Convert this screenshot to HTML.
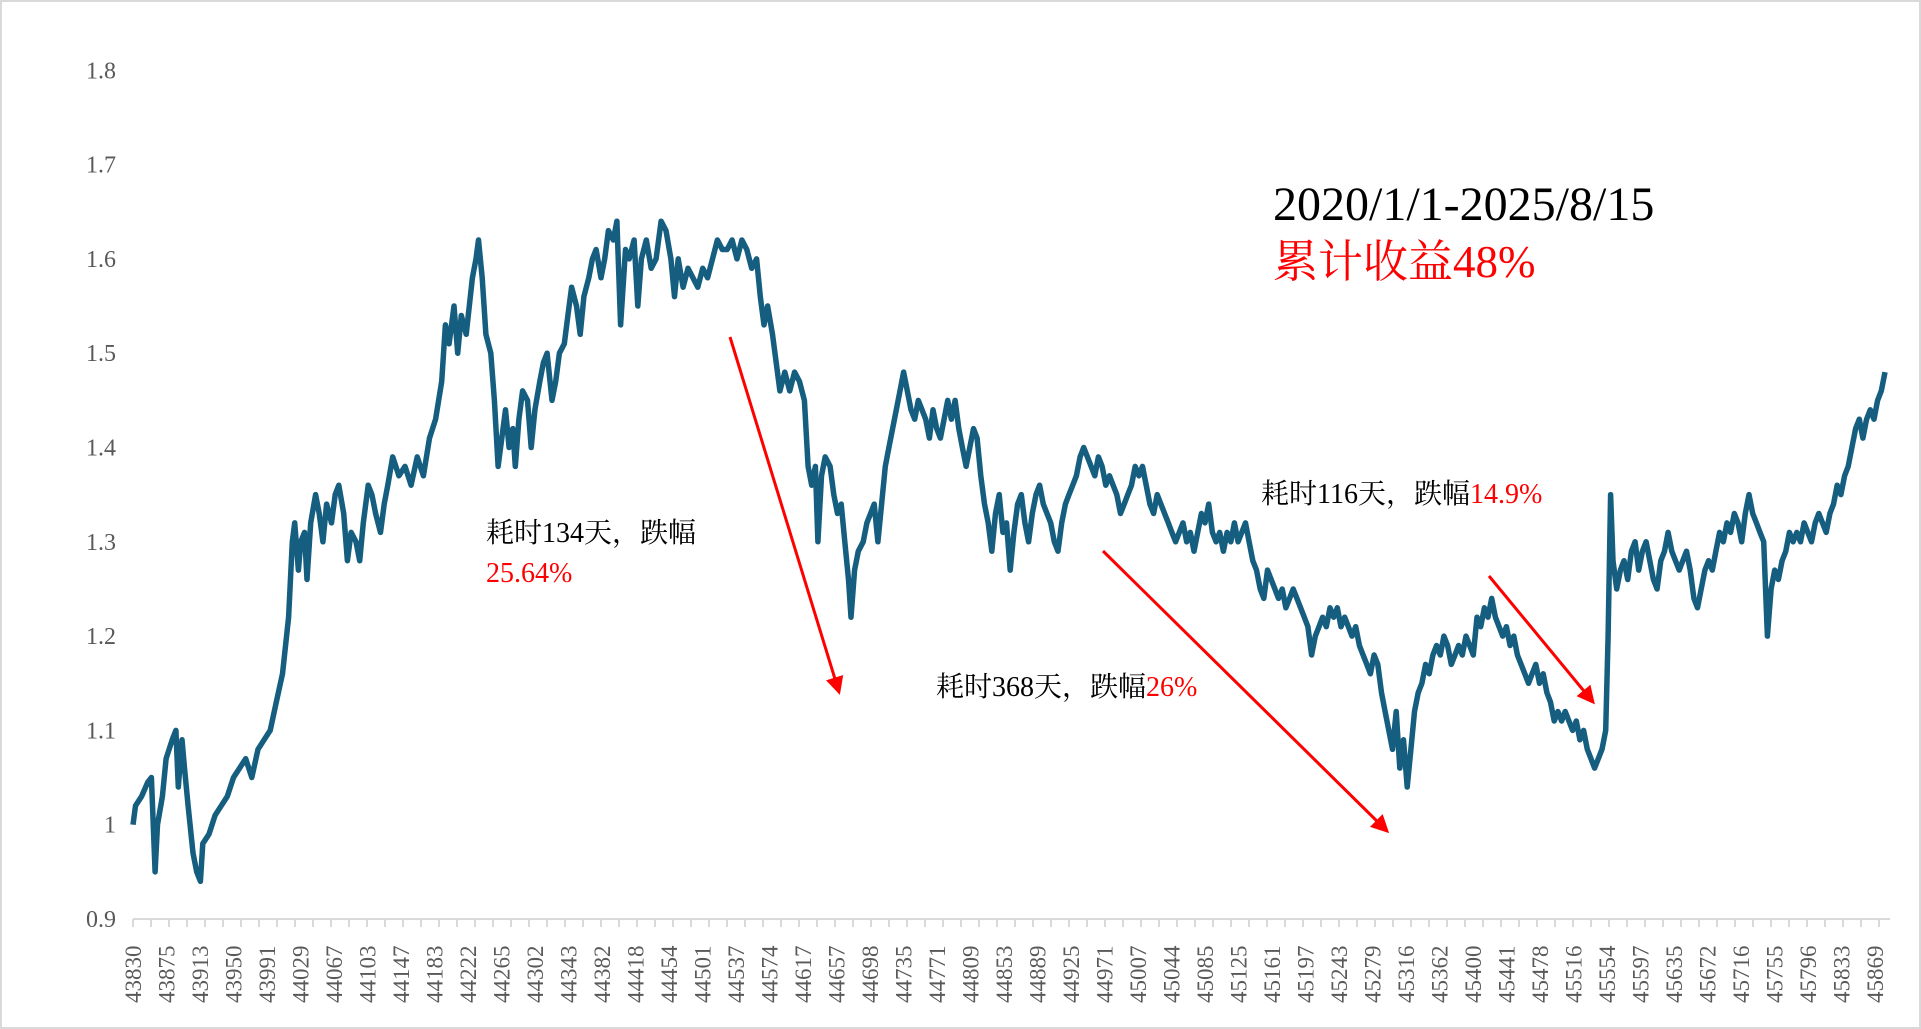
<!DOCTYPE html>
<html><head><meta charset="utf-8">
<style>
html,body{margin:0;padding:0;background:#fff;}
body{width:1921px;height:1029px;overflow:hidden;position:relative;font-family:"Liberation Serif","Noto Serif CJK SC",serif;}
#frame{position:absolute;left:0;top:0;width:1917px;height:1025px;border:2px solid #d9d9d9;}
svg{position:absolute;left:0;top:0;}
</style></head>
<body>
<div id="frame"></div>
<svg id="chart" width="1921" height="1029"></svg>
<script>
const yTicks=[0.9,1,1.1,1.2,1.3,1.4,1.5,1.6,1.7,1.8];
const yTickLabels=["0.9","1","1.1","1.2","1.3","1.4","1.5","1.6","1.7","1.8"];
const xLabels=[43830,43875,43913,43950,43991,44029,44067,44103,44147,44183,44222,44265,44302,44343,44382,44418,44454,44501,44537,44574,44617,44657,44698,44735,44771,44809,44853,44889,44925,44971,45007,45044,45085,45125,45161,45197,45243,45279,45316,45362,45400,45441,45478,45516,45554,45597,45635,45672,45716,45755,45796,45833,45869];
function range(a,b,s){const r=[];for(let v=a;v<=b;v+=s)r.push(v);return r;}
const TOTAL_DAYS=1430;
const sampleDays=[0,2,7,12,15,18,20,24,27,32,35,37,40,42,45,49,52,55,57,62,67,72,77,82,87,92,97,102,107,112,117,122,127,130,132,135,137,140,142,145,149,152,155,158,162,165,168,172,175,178,182,185,188,192,195,198,202,205,208,212,217,222,227,232,237,242,247,252,255,258,262,265,268,272,277,280,282,285,288,292,295,298,301,304,307,310,312,315,318,322,325,328,332,335,338,342,345,348,352,355,358,362,365,368,372,375,378,382,385,388,392,395,398,402,405,409,412,415,419,423,427,431,435,439,442,445,449,453,457,461,465,469,473,477,481,485,489,493,497,501,505,509,512,515,518,522,525,528,532,536,540,544,548,551,554,557,559,562,565,569,572,575,578,581,584,586,589,592,596,599]
  .concat(range(602,1202,3),[1204,1206],range(1208,1430,3));
const navValues=[1.00,1.02,1.03,1.045,1.05,0.95,1.00,1.03,1.07,1.09,1.10,1.04,1.09,1.06,1.02,0.97,0.95,0.94,0.98,0.99,1.01,1.02,1.03,1.05,1.06,1.07,1.05,1.08,1.09,1.10,1.13,1.16,1.22,1.30,1.32,1.27,1.30,1.31,1.26,1.32,1.35,1.33,1.30,1.34,1.32,1.35,1.36,1.33,1.28,1.31,1.30,1.28,1.32,1.36,1.35,1.33,1.31,1.34,1.36,1.39,1.37,1.38,1.36,1.39,1.37,1.41,1.43,1.47,1.53,1.51,1.55,1.50,1.54,1.52,1.58,1.60,1.62,1.58,1.52,1.50,1.45,1.38,1.41,1.44,1.40,1.42,1.38,1.43,1.46,1.45,1.40,1.44,1.47,1.49,1.50,1.45,1.47,1.50,1.51,1.54,1.57,1.55,1.52,1.56,1.58,1.60,1.61,1.58,1.60,1.63,1.62,1.64,1.53,1.61,1.60,1.62,1.55,1.60,1.62,1.59,1.60,1.64,1.63,1.60,1.56,1.60,1.57,1.59,1.58,1.57,1.59,1.58,1.60,1.62,1.61,1.61,1.62,1.60,1.62,1.61,1.59,1.60,1.56,1.53,1.55,1.52,1.49,1.46,1.48,1.46,1.48,1.47,1.45,1.38,1.36,1.38,1.30,1.37,1.39,1.38,1.35,1.33,1.34,1.30,1.26,1.22,1.27,1.29,1.30,1.32,1.33,1.34,1.30,1.34,1.38,1.40,1.42,1.44,1.46,1.48,1.46,1.44,1.43,1.45,1.44,1.43,1.41,1.44,1.42,1.41,1.43,1.45,1.43,1.45,1.42,1.40,1.38,1.40,1.42,1.41,1.37,1.34,1.32,1.29,1.33,1.35,1.31,1.32,1.27,1.31,1.34,1.35,1.32,1.30,1.33,1.35,1.36,1.34,1.33,1.32,1.30,1.29,1.32,1.34,1.35,1.36,1.37,1.39,1.40,1.39,1.38,1.37,1.39,1.38,1.36,1.37,1.36,1.35,1.33,1.34,1.35,1.36,1.38,1.37,1.38,1.36,1.34,1.33,1.35,1.34,1.33,1.32,1.31,1.30,1.31,1.32,1.30,1.31,1.29,1.31,1.33,1.32,1.34,1.31,1.30,1.31,1.29,1.31,1.30,1.32,1.30,1.31,1.32,1.30,1.28,1.27,1.25,1.24,1.27,1.26,1.25,1.24,1.25,1.23,1.24,1.25,1.24,1.23,1.22,1.21,1.18,1.20,1.21,1.22,1.21,1.23,1.22,1.23,1.21,1.22,1.21,1.20,1.21,1.19,1.18,1.17,1.16,1.18,1.17,1.14,1.12,1.10,1.08,1.12,1.06,1.09,1.04,1.08,1.12,1.14,1.15,1.17,1.16,1.18,1.19,1.18,1.20,1.19,1.17,1.18,1.19,1.18,1.20,1.19,1.18,1.22,1.21,1.23,1.22,1.24,1.22,1.21,1.20,1.21,1.19,1.20,1.18,1.17,1.16,1.15,1.16,1.17,1.15,1.16,1.14,1.13,1.11,1.12,1.11,1.12,1.11,1.10,1.11,1.09,1.10,1.08,1.07,1.06,1.07,1.08,1.10,1.20,1.35,1.28,1.25,1.27,1.28,1.26,1.29,1.30,1.27,1.29,1.30,1.28,1.26,1.25,1.28,1.29,1.31,1.29,1.28,1.27,1.28,1.29,1.27,1.24,1.23,1.25,1.27,1.28,1.27,1.29,1.31,1.30,1.32,1.31,1.33,1.32,1.30,1.33,1.35,1.33,1.32,1.31,1.30,1.20,1.25,1.27,1.26,1.28,1.29,1.31,1.30,1.31,1.30,1.32,1.31,1.30,1.32,1.33,1.32,1.31,1.33,1.34,1.36,1.35,1.37,1.38,1.40,1.42,1.43,1.41,1.43,1.44,1.43,1.45,1.46,1.48];

const NS='http://www.w3.org/2000/svg';
const svg=document.getElementById('chart');
const X0=133,X1=1885,Y0=919,PER=943;
function yScale(v){return Y0-(v-0.9)*PER;}
function xScale(day){return X0+day/TOTAL_DAYS*(X1-X0);}
function mk(tag,attrs){const e=document.createElementNS(NS,tag);for(const k in attrs)e.setAttribute(k,attrs[k]);svg.appendChild(e);return e;}

yTicks.forEach((v,i)=>{
  const t=mk('text',{x:116,y:yScale(v)+8,'text-anchor':'end','font-size':24,fill:'#595959','font-family':'"Liberation Serif",serif'});
  t.textContent=yTickLabels[i];
  
  
});
const ax=mk('line',{x1:X0,y1:Y0,x2:1890,y2:Y0,stroke:'#d9d9d9','stroke-width':2});


for(let x=X0;x<=1890;x+=18){
  const tk=mk('line',{x1:x,y1:Y0,x2:x,y2:Y0+8,stroke:'#d9d9d9','stroke-width':2});
  
  
}
const lstep=(1875-X0)/(xLabels.length-1);
xLabels.forEach((lab,i)=>{
  const x=X0+i*lstep+8;
  const t=mk('text',{x:0,y:0,transform:`translate(${x},1003) rotate(-90)`,'font-size':23,fill:'#595959','font-family':'"Liberation Serif",serif'});
  t.textContent=lab;
  
  
});
let d='';
const n=Math.min(navValues.length,sampleDays.length);
for(let i=0;i<n;i++){d+=(i?'L':'M')+xScale(sampleDays[i]).toFixed(1)+','+yScale(navValues[i]).toFixed(1);}
const p=mk('path',{d:d,fill:'none',stroke:'#155e7f','stroke-width':5.5,'stroke-linejoin':'round'});



const defs=mk('defs',{});
defs.innerHTML='<marker id="ah" markerWidth="6" markerHeight="6" refX="5" refY="3" orient="auto" markerUnits="strokeWidth"><path d="M0,0 L6,3 L0,6 z" fill="#ff0000"/></marker>';
[[730,337,839,692],[1103,551,1387,831],[1489,576,1593,702]].forEach(a=>{
  const l=mk('line',{x1:a[0],y1:a[1],x2:a[2],y2:a[3],stroke:'#ff0000','stroke-width':3,'marker-end':'url(#ah)'});
  
  
});
</script>
<div style="position:absolute;left:486px;top:514px;font-size:28px;line-height:40px;color:#000;">耗时134天，跌幅<br><span style="color:#ff0000">25.64%</span></div>
<div style="position:absolute;left:936px;top:668px;font-size:28px;line-height:40px;color:#000;">耗时368天，跌幅<span style="color:#ff0000">26%</span></div>
<div style="position:absolute;left:1261px;top:475px;font-size:28px;line-height:40px;color:#000;">耗时116天，跌幅<span style="color:#ff0000">14.9%</span></div>
<div style="position:absolute;left:1273px;top:176px;font-size:48px;line-height:58px;color:#000;">2020/1/1-2025/8/15</div>
<div style="position:absolute;left:1273px;top:234px;font-size:45px;line-height:56px;color:#ff0000;">累计收益48%</div>
</body></html>
